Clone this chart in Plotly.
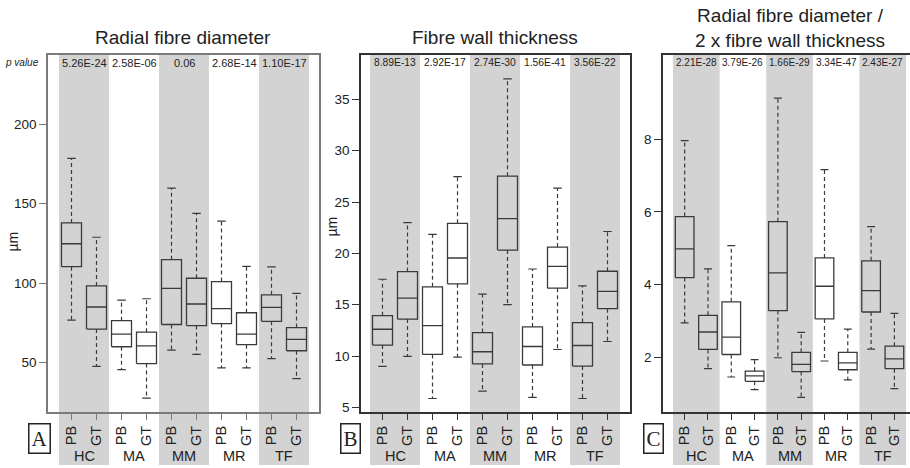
import plotly.graph_objects as go

groups = ["HC", "MA", "MM", "MR", "TF"]
kinds = ["PB", "GT"]

# Order of boxes: HC PB, HC GT, MA PB, MA GT, MM PB, MM GT, MR PB, MR GT, TF PB, TF GT
# Panel A: Radial fibre diameter (µm)
a_low = [76.7, 47.7, 45.6, 27.7, 57.9, 55.2, 46.7, 46.7, 52.5, 40.0]
a_q1 = [110.4, 71.1, 60.0, 49.4, 74.0, 73.3, 74.6, 61.3, 76.0, 57.5]
a_med = [124.8, 85.0, 67.9, 60.6, 96.7, 86.9, 84.0, 67.9, 84.8, 64.6]
a_q3 = [137.9, 98.3, 76.4, 69.2, 114.8, 103.1, 101.0, 81.4, 92.7, 72.1]
a_high = [178.5, 128.9, 89.4, 90.2, 159.8, 143.9, 139.0, 110.6, 110.2, 93.6]
a_p = ["5.26E-24", "2.58E-06", "0.06", "2.68E-14", "1.10E-17"]

# Panel B: Fibre wall thickness (µm)
b_low = [9.0, 9.97, 5.87, 9.9, 6.58, 15.0, 5.97, 10.64, 5.87, 11.42]
b_q1 = [11.07, 13.6, 10.16, 17.03, 9.23, 20.32, 9.13, 16.61, 9.03, 14.61]
b_med = [12.61, 15.65, 12.96, 19.55, 10.42, 23.39, 10.93, 18.74, 11.03, 16.29]
b_q3 = [13.93, 18.23, 16.74, 22.93, 12.29, 27.52, 12.84, 20.61, 13.26, 18.26]
b_high = [17.48, 23.0, 21.84, 27.48, 16.03, 37.0, 18.48, 26.36, 16.84, 22.13]
b_p = ["8.89E-13", "2.92E-17", "2.74E-30", "1.56E-41", "3.56E-22"]

# Panel C: Radial fibre diameter / 2 x fibre wall thickness
c_low = [2.94, 1.68, 1.45, 1.10, 1.98, 0.89, 1.89, 1.37, 2.22, 1.13]
c_q1 = [4.19, 2.21, 2.07, 1.33, 3.28, 1.60, 3.05, 1.65, 3.24, 1.68]
c_med = [4.98, 2.69, 2.55, 1.48, 4.32, 1.80, 3.95, 1.84, 3.83, 1.95]
c_q3 = [5.87, 3.15, 3.52, 1.61, 5.73, 2.13, 4.73, 2.13, 4.65, 2.30]
c_high = [7.96, 4.43, 5.07, 1.93, 9.13, 2.68, 7.16, 2.77, 5.59, 3.20]
c_p = ["2.21E-28", "3.79E-26", "1.66E-29", "3.34E-47", "2.43E-27"]

a_ticks = [50, 100, 150, 200]
b_ticks = [5, 10, 15, 20, 25, 30, 35]
c_ticks = [2, 4, 6, 8]

FONT = "Liberation Sans, Arial, sans-serif"
TXT = "#222222"
BOXC = "#3a3a3a"
BAND = "#d3d3d3"
W = 910
H = 468
Y0 = 1 - 415 / H
Y1 = 1 - 55 / H

panels = [
    dict(low=a_low, q1=a_q1, med=a_med, q3=a_q3, high=a_high, p=a_p, ticks=a_ticks, pfs=11,
         dom=[48 / W, 319 / W], xr=[-0.44, 10.4], yr=[18.75, 243.75], line="#7a7a7a",
         title="Radial fibre diameter", letter="A", lx=39.5, unit=(13, 243)),
    dict(low=b_low, q1=b_q1, med=b_med, q3=b_q3, high=b_high, p=b_p, ticks=b_ticks, pfs=10.3,
         dom=[361 / W, 630 / W], xr=[-0.36, 10.4], yr=[4.52, 39.35], line="#333333",
         title="Fibre wall thickness", letter="B", lx=350.5, unit=(332, 228)),
    dict(low=c_low, q1=c_q1, med=c_med, q3=c_q3, high=c_high, p=c_p, ticks=c_ticks, pfs=10,
         dom=[663 / W, 1.0], xr=[-0.43, 10.17], yr=[0.476, 10.33], line="#333333",
         title="Radial fibre diameter /<br>2 x fibre wall thickness", letter="C", lx=653.5, unit=None),
]

fig = go.Figure()
shapes = []
annotations = []
hw = 0.4   # half box width
cw = 0.17  # half cap width

for k, pn in enumerate(panels):
    xa = "x" if k == 0 else f"x{k+1}"
    ya = "y" if k == 0 else f"y{k+1}"
    xs_box, ys_box, xs_w, ys_w, xs_c, ys_c = [], [], [], [], [], []
    centers = []
    labels = []
    for gi, g in enumerate(groups):
        for ki, kd in enumerate(kinds):
            idx = gi * 2 + ki
            c = 2 * gi + 0.5 + ki
            centers.append(c)
            labels.append(kd)
            lo, q1, md, q3, hi = pn["low"][idx], pn["q1"][idx], pn["med"][idx], pn["q3"][idx], pn["high"][idx]
            xs_box += [c - hw, c + hw, c + hw, c - hw, c - hw, None, c - hw, c + hw, None]
            ys_box += [q1, q1, q3, q3, q1, None, md, md, None]
            xs_w += [c, c, None, c, c, None]
            ys_w += [q3, hi, None, q1, lo, None]
            xs_c += [c - cw, c + cw, None, c - cw, c + cw, None]
            ys_c += [hi, hi, None, lo, lo, None]
    fig.add_trace(go.Scatter(x=xs_w, y=ys_w, mode="lines", xaxis=xa, yaxis=ya,
                             line=dict(color=BOXC, width=1.2, dash="4px,3px"), showlegend=False, hoverinfo="skip"))
    fig.add_trace(go.Scatter(x=xs_c, y=ys_c, mode="lines", xaxis=xa, yaxis=ya,
                             line=dict(color=BOXC, width=1.2), showlegend=False, hoverinfo="skip"))
    fig.add_trace(go.Scatter(x=xs_box, y=ys_box, mode="lines", xaxis=xa, yaxis=ya,
                             line=dict(color=BOXC, width=1.3), showlegend=False, hoverinfo="skip"))

    axkey = "xaxis" if k == 0 else f"xaxis{k+1}"
    aykey = "yaxis" if k == 0 else f"yaxis{k+1}"
    fig.update_layout(**{
        axkey: dict(domain=pn["dom"], range=pn["xr"], anchor=ya, showgrid=False, zeroline=False,
                    showline=True, linecolor=pn["line"], linewidth=1.5, mirror=True,
                    tickmode="array", tickvals=centers, ticktext=labels, tickangle=-90,
                    ticks="outside", ticklen=6, tickcolor=pn["line"],
                    tickfont=dict(family=FONT, size=14.5, color=TXT)),
        aykey: dict(domain=[Y0, Y1], range=pn["yr"], anchor=xa, showgrid=False, zeroline=False,
                    showline=True, linecolor=pn["line"], linewidth=1.5, mirror=(k < 2),
                    tickmode="array", tickvals=pn["ticks"], ticks="outside", ticklen=7,
                    tickcolor=pn["line"], tickfont=dict(family=FONT, size=13.5, color=TXT)),
    })

    # grey bands for HC, MM, TF
    for gi in (0, 2, 4):
        shapes.append(dict(type="rect", xref=xa, yref="paper", x0=2 * gi, x1=2 * gi + 2,
                           y0=0, y1=Y1, fillcolor=BAND, line=dict(width=0), layer="below"))

    for gi, g in enumerate(groups):
        annotations.append(dict(x=2 * gi + 1, y=1 - 459 / H, xref=xa, yref="paper", text=g,
                                showarrow=False, font=dict(family=FONT, size=14.5, color=TXT),
                                xanchor="center", yanchor="middle"))
        annotations.append(dict(x=2 * gi + 1, y=1 - 63 / H, xref=xa, yref="paper", text=pn["p"][gi],
                                showarrow=False, font=dict(family=FONT, size=pn["pfs"], color=TXT),
                                xanchor="center", yanchor="middle"))

    xc = (pn["dom"][0] + (pn["dom"][1] if k < 2 else 916 / W)) / 2
    if k < 2:
        annotations.append(dict(x=xc, y=1 - 38 / H, xref="paper", yref="paper", text=pn["title"],
                                showarrow=False, font=dict(family=FONT, size=19, color=TXT),
                                xanchor="center", yanchor="middle"))
    else:
        annotations.append(dict(x=xc, y=1 - 28 / H, xref="paper", yref="paper", text=pn["title"],
                                showarrow=False, font=dict(family=FONT, size=19, color=TXT),
                                xanchor="center", yanchor="middle"))
    annotations.append(dict(x=pn["lx"] / W, y=1 - 441 / H, xref="paper", yref="paper", text=pn["letter"],
                            showarrow=False, font=dict(family="Liberation Serif, DejaVu Serif, serif", size=21, color=TXT),
                            bordercolor="#222222", borderwidth=1.5, borderpad=2,
                            xanchor="center", yanchor="middle"))
    if pn["unit"]:
        annotations.append(dict(x=pn["unit"][0] / W, y=1 - pn["unit"][1] / H, xref="paper", yref="paper",
                                text="µm", textangle=-90, showarrow=False,
                                font=dict(family=FONT, size=14, color=TXT),
                                xanchor="center", yanchor="middle"))

annotations.append(dict(x=22 / W, y=1 - 63 / H, xref="paper", yref="paper", text="<i>p value</i>",
                        showarrow=False, font=dict(family=FONT, size=10, color=TXT),
                        xanchor="center", yanchor="middle"))

fig.update_layout(width=W, height=H, margin=dict(l=0, r=0, t=0, b=0),
                  paper_bgcolor="white", plot_bgcolor="rgba(0,0,0,0)",
                  shapes=shapes, annotations=annotations, showlegend=False)

fig.write_html("out.html", config={"displayModeBar": False},
               post_script="document.body.style.margin='0';document.body.style.padding='0';document.body.style.overflow='hidden';")
